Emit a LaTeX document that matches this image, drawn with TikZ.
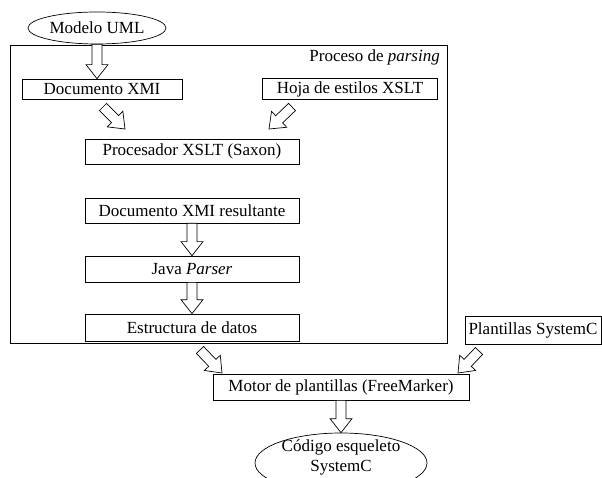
\documentclass[tikz,border=0pt]{standalone}
\usepackage{fontspec}
\setmainfont{Liberation Serif}
\usetikzlibrary{positioning}
\usetikzlibrary{calc}
\usetikzlibrary{shapes}
\tikzstyle{box}=[rectangle,draw,fill=white,inner sep=0pt,line width=0.7pt]
\tikzstyle{oval}=[ellipse,draw,fill=white,inner sep=0pt,line width=0.7pt]
\tikzstyle{fat} = [draw,fill=white,line width=0.7pt,line join=miter]
\tikzstyle{frametitle} = [anchor=east,inner sep=0pt]

% hollow block arrow from #1 (tail) to #2 (tip)
\newcommand{\fatarrow}[2]{%
  \coordinate (neck) at ($(#2)!14pt!(#1)$);
  \path[fat] ($(#1)!5pt!90:(#2)$) -- ($(neck)!5pt!90:(#2)$) -- ($(neck)!11pt!90:(#2)$)
     -- (#2) -- ($(neck)!11pt!-90:(#2)$) -- ($(neck)!5pt!-90:(#2)$) -- ($(#1)!5pt!-90:(#2)$) -- cycle;
}

\begin{document}
\begin{tikzpicture}[x=1pt,y=-1pt,font=\fontsize{17}{20}\selectfont]
    \useasboundingbox (0,0) rectangle (602,478);
    % frame of the parsing stage
    \node[box, minimum width=437pt, minimum height=298pt, anchor=north west] (parsing) at (10,45) {};
    \node[frametitle] (parsingtitle) at (440,57) {Proceso de \textit{parsing}};

    % First we draw the boxes
    \foreach \pos/\name/\w/\h/\text in {{(102,89)/docxmi/160/20/Documento XMI}, {(350,89)/hoja/175/21/Hoja de estilos XSLT},
        {(192,151.5)/procesador/214/25/Procesador XSLT (Saxon)}, {(192,210.5)/docres/214/25/Documento XMI resultante},
        {(192,269)/java/214/26/Java \textit{Parser}}, {(192,327.5)/estructura/214/27/Estructura de datos},
        {(533,330)/plantillas/136/28/Plantillas SystemC}, {(341,387)/motor/256/26/Motor de plantillas (FreeMarker)}}
        \node[box, minimum width=\w pt, minimum height=\h pt] (\name) at \pos {\text};

    \node[oval, minimum width=138pt, minimum height=32pt] (uml) at (97,28) {Modelo UML};
    \node[oval, minimum width=172pt, minimum height=60pt] (codigo) at (341,463) {};
    \node[align=center, inner sep=0pt] (codigotext) at (341,457) {Código esqueleto\\SystemC};

    % free ends of the slanted arrows
    \coordinate (xmitail) at (103,107);
    \coordinate (xmitip) at (125,129);
    \coordinate (hojatail) at (292,107);
    \coordinate (hojatip) at (269,129);
    \coordinate (datostail) at (200,350);
    \coordinate (datostip) at (222,373);
    \coordinate (planttail) at (479,351);
    \coordinate (planttip) at (458,373);

    % Connect with block arrows
    \fatarrow{uml.south}{uml.south |- docxmi.north}
    \fatarrow{xmitail}{xmitip}
    \fatarrow{hojatail}{hojatip}
    \fatarrow{docres.south}{java.north}
    \fatarrow{java.south}{estructura.north}
    \fatarrow{datostail}{datostip}
    \fatarrow{planttail}{planttip}
    \fatarrow{motor.south}{motor.south |- codigo.north}
\end{tikzpicture}
\end{document}
